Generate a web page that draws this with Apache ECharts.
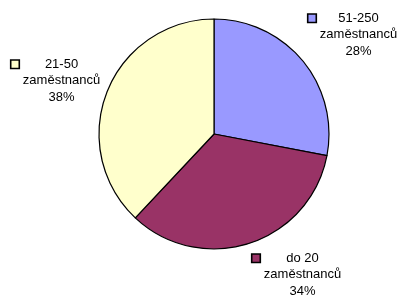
<!DOCTYPE html>
<html>
<head>
<meta charset="utf-8">
<script src="https://cdn.jsdelivr.net/npm/echarts@6/dist/echarts.min.js"></script>
<style>html,body{margin:0;padding:0;background:#fff;}#c{width:398px;height:296px;}</style>
</head>
<body>
<div id="c"></div>
<script>
var categories = ["51-250", "do 20", "21-50"];
var suffix = "zaměstnanců";
var values = [28, 34, 38];
var colors = ["#9999FF", "#993366", "#FFFFCC"];

var labelPos = [
  {x: 353, y: 10},
  {x: 297, y: 250},
  {x: 56, y: 56}
];

var chart = echarts.init(document.getElementById('c'), null, {renderer: 'canvas'});
var data = categories.map(function (c, i) {
  return {name: c, value: values[i], itemStyle: {color: colors[i]}};
});
var LH = 16.5;
var rich = {
  t: {fontFamily: 'Liberation Sans', fontSize: 13, color: '#000', lineHeight: LH, width: 78},
  gap: {width: 4, lineHeight: LH},
  sp: {width: 11, lineHeight: LH}
};
colors.forEach(function (col, i) {
  rich['box' + i] = {width: 7, height: 7, backgroundColor: col, borderColor: '#000', borderWidth: 1.6, verticalAlign: 'middle'};
});
chart.setOption({
  animation: false,
  series: [{
    type: 'pie',
    center: [214, 134],
    radius: 115,
    startAngle: 90,
    clockwise: true,
    data: data,
    itemStyle: {borderColor: '#000', borderWidth: 1.2},
    label: {
      show: true,
      position: 'outside',
      overflow: 'none',
      rich: rich,
      align: 'center',
      formatter: function (p) {
        return '{box' + p.dataIndex + '|}{gap|}{t|' + p.name + '}\n{sp|}{t|' + suffix + '}\n{sp|}{t|' + Math.round(p.percent) + '%}';
      }
    },
    labelLine: {show: false},
    labelLayout: function (p) {
      var lp = labelPos[p.dataIndex];
      return {x: lp.x, y: lp.y, align: 'center', verticalAlign: 'top'};
    },
    emphasis: {disabled: true}
  }]
});
</script>
</body>
</html>
